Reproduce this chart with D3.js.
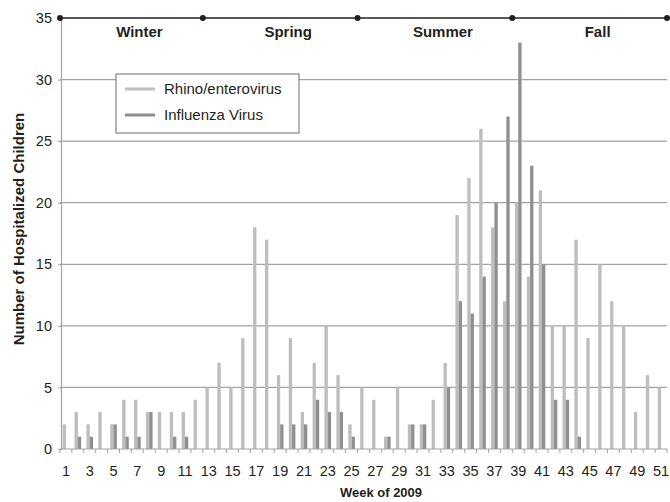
<!DOCTYPE html>
<html>
<head>
    <meta charset="utf-8">
    <title>Hospitalized children by week, 2009</title>
    <script type="text/javascript" src="https://cdn.jsdelivr.net/npm/d3@7"></script>
    <style type="text/css">
        html, body { margin: 0; padding: 0; background: #fff; }
        svg { display: block; font-family: "Liberation Sans", Arial, sans-serif; }
        text { fill: #231f20; }
    </style>
</head>
<body>
<script type="text/javascript">
    // week 1..51 of 2009
    var weeks = d3.range(1, 52);
    var rhino = [2,3,2,3,2,4,4,3,3,3,3,4,5,7,5,9,18,17,6,9,3,7,10,6,2,5,4,1,5,2,2,4,7,19,22,26,18,12,20,14,21,10,10,17,9,15,12,10,3,6,5];
    var influenza = [0,1,1,0,2,1,1,3,0,1,1,0,0,0,0,0,0,0,2,2,2,4,3,3,1,0,0,1,0,2,2,0,5,12,11,14,20,27,33,23,15,4,4,1,0,0,0,0,0,0,0];
    var seriesNames = ["Rhino/enterovirus", "Influenza Virus"];
    var seasons = ["Winter", "Spring", "Summer", "Fall"];
    var seasonEnds = [0, 12, 25, 38, 51]; // last week before each boundary
    var yTicks = [0, 5, 10, 15, 20, 25, 30, 35];

    var width = 670, height = 502;
    var colors = ["#bdbdbf", "#8f8f91"];

    var svg = d3.select("body").append("svg")
        .attr("width", width).attr("height", height);

    var x = d3.scaleBand().domain(weeks).range([60, 667]).padding(0);
    var y = d3.scaleLinear().domain([0, 35]).range([449, 18]);
    var bw = x.bandwidth();
    var barW = 3.3;

    // grid
    svg.append("g").selectAll("line")
        .data(yTicks.filter(function (d) { return d > 0 && d < 35; }))
        .enter().append("line")
        .attr("x1", x.range()[0]).attr("x2", x.range()[1])
        .attr("y1", function (d) { return y(d); })
        .attr("y2", function (d) { return y(d); })
        .attr("stroke", "#a3a3a3").attr("stroke-width", 1.2);

    // y axis
    var yAxis = svg.append("g")
        .attr("transform", "translate(61,0)")
        .call(d3.axisLeft(y).tickValues(yTicks).tickSize(3).tickPadding(6));
    yAxis.select(".domain").attr("stroke", "#a3a3a3").attr("stroke-width", 1.2);
    yAxis.selectAll(".tick line").attr("stroke", "#a3a3a3");
    yAxis.selectAll("text").attr("font-size", 14.5).attr("fill", "#231f20")
        .attr("font-family", "Liberation Sans, Arial, sans-serif");

    // bars
    var bars = svg.append("g");
    bars.selectAll("rect.rhino")
        .data(weeks).enter().append("rect")
        .attr("class", "rhino")
        .attr("x", function (d) { return x(d) + bw / 2 - barW; })
        .attr("width", barW)
        .attr("y", function (d, i) { return y(rhino[i]); })
        .attr("height", function (d, i) { return y(0) - y(rhino[i]); })
        .attr("fill", colors[0]);
    bars.selectAll("rect.flu")
        .data(weeks).enter().append("rect")
        .attr("class", "flu")
        .attr("x", function (d) { return x(d) + bw / 2; })
        .attr("width", barW)
        .attr("y", function (d, i) { return y(influenza[i]); })
        .attr("height", function (d, i) { return y(0) - y(influenza[i]); })
        .attr("fill", colors[1]);

    // x axis: ticks between weeks, labels on odd weeks
    var xg = svg.append("g");
    xg.append("line")
        .attr("x1", x.range()[0]).attr("x2", x.range()[1])
        .attr("y1", y(0)).attr("y2", y(0))
        .attr("stroke", "#a3a3a3").attr("stroke-width", 1.2);
    xg.selectAll("line.tk")
        .data(d3.range(0, 52)).enter().append("line")
        .attr("class", "tk")
        .attr("x1", function (d) { return x.range()[0] + d * bw; })
        .attr("x2", function (d) { return x.range()[0] + d * bw; })
        .attr("y1", y(0)).attr("y2", y(0) + 4)
        .attr("stroke", "#a3a3a3");
    xg.selectAll("text")
        .data(weeks.filter(function (d) { return d % 2 === 1; }))
        .enter().append("text")
        .attr("x", function (d) { return x(d) + bw / 2; })
        .attr("y", 476)
        .attr("text-anchor", "middle")
        .attr("font-size", 14.5)
        .text(function (d) { return d; });

    // season bar along the top
    var sx = function (n) { return x.range()[0] + n * bw; };
    svg.append("line")
        .attr("x1", sx(0)).attr("x2", sx(51))
        .attr("y1", y(35)).attr("y2", y(35))
        .attr("stroke", "#231f20").attr("stroke-width", 1.6);
    svg.selectAll("circle.season")
        .data(seasonEnds).enter().append("circle")
        .attr("cx", function (d) { return sx(d); })
        .attr("cy", y(35)).attr("r", 3)
        .attr("fill", "#231f20");
    svg.selectAll("text.season")
        .data(seasons).enter().append("text")
        .attr("class", "season")
        .attr("x", function (d, i) { return (sx(seasonEnds[i]) + sx(seasonEnds[i + 1])) / 2 + 8; })
        .attr("y", 37)
        .attr("text-anchor", "middle")
        .attr("font-size", 15).attr("font-weight", "bold")
        .text(function (d) { return d; });

    // legend
    var lg = svg.append("g").attr("transform", "translate(116,74)");
    lg.append("rect").attr("width", 183).attr("height", 59)
        .attr("fill", "#fff").attr("stroke", "#6d6d6d").attr("stroke-width", 1);
    seriesNames.forEach(function (name, i) {
        lg.append("line").attr("x1", 9).attr("x2", 39)
            .attr("y1", 15 + i * 26).attr("y2", 15 + i * 26)
            .attr("stroke", colors[i]).attr("stroke-width", 3);
        lg.append("text").attr("x", 48).attr("y", 20 + i * 26)
            .attr("font-size", 15).text(name);
    });

    // axis titles
    svg.append("text")
        .attr("x", 381).attr("y", 497)
        .attr("text-anchor", "middle")
        .attr("font-size", 13).attr("font-weight", "bold")
        .text("Week of 2009");
    svg.append("text")
        .attr("transform", "translate(24,229) rotate(-90)")
        .attr("text-anchor", "middle")
        .attr("font-size", 15).attr("font-weight", "bold")
        .text("Number of Hospitalized Children");
</script>
</body>
</html>
